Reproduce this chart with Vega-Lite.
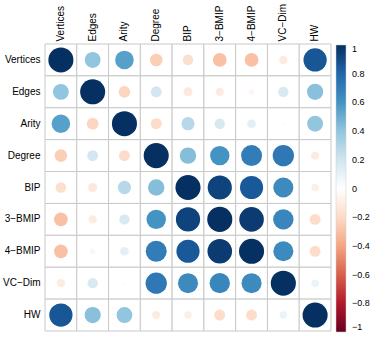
{
  "$schema": "https://vega.github.io/schema/vega-lite/v6.json",
  "width": 286,
  "height": 287,
  "autosize": {"type": "none"},
  "padding": {"left": 45, "top": 44, "right": 43, "bottom": 8},
  "background": "white",
  "config": {
    "view": {"stroke": null},
    "font": "Liberation Sans",
    "axis": {"labelFont": "Liberation Sans", "labelFontSize": 10, "labelColor": "black"},
    "legend": {"labelFont": "Liberation Sans", "labelFontSize": 9, "labelColor": "black"}
  },
  "data": {"values": [
    {"row":"Vertices","col":"Vertices","r":1},{"row":"Vertices","col":"Edges","r":0.40},{"row":"Vertices","col":"Arity","r":0.55},{"row":"Vertices","col":"Degree","r":-0.25},{"row":"Vertices","col":"BIP","r":-0.18},{"row":"Vertices","col":"3−BMIP","r":-0.30},{"row":"Vertices","col":"4−BMIP","r":-0.30},{"row":"Vertices","col":"VC−Dim","r":-0.11},{"row":"Vertices","col":"HW","r":0.86},
    {"row":"Edges","col":"Vertices","r":0.40},{"row":"Edges","col":"Edges","r":1},{"row":"Edges","col":"Arity","r":-0.22},{"row":"Edges","col":"Degree","r":0.19},{"row":"Edges","col":"BIP","r":-0.13},{"row":"Edges","col":"3−BMIP","r":-0.11},{"row":"Edges","col":"4−BMIP","r":-0.05},{"row":"Edges","col":"VC−Dim","r":0.17},{"row":"Edges","col":"HW","r":0.42},
    {"row":"Arity","col":"Vertices","r":0.55},{"row":"Arity","col":"Edges","r":-0.22},{"row":"Arity","col":"Arity","r":1},{"row":"Arity","col":"Degree","r":-0.19},{"row":"Arity","col":"BIP","r":0.28},{"row":"Arity","col":"3−BMIP","r":0.17},{"row":"Arity","col":"4−BMIP","r":0.12},{"row":"Arity","col":"VC−Dim","r":0.02},{"row":"Arity","col":"HW","r":0.40},
    {"row":"Degree","col":"Vertices","r":-0.25},{"row":"Degree","col":"Edges","r":0.19},{"row":"Degree","col":"Arity","r":-0.19},{"row":"Degree","col":"Degree","r":1},{"row":"Degree","col":"BIP","r":0.43},{"row":"Degree","col":"3−BMIP","r":0.60},{"row":"Degree","col":"4−BMIP","r":0.70},{"row":"Degree","col":"VC−Dim","r":0.72},{"row":"Degree","col":"HW","r":-0.11},
    {"row":"BIP","col":"Vertices","r":-0.18},{"row":"BIP","col":"Edges","r":-0.13},{"row":"BIP","col":"Arity","r":0.28},{"row":"BIP","col":"Degree","r":0.43},{"row":"BIP","col":"BIP","r":1},{"row":"BIP","col":"3−BMIP","r":0.93},{"row":"BIP","col":"4−BMIP","r":0.85},{"row":"BIP","col":"VC−Dim","r":0.64},{"row":"BIP","col":"HW","r":-0.09},
    {"row":"3−BMIP","col":"Vertices","r":-0.30},{"row":"3−BMIP","col":"Edges","r":-0.11},{"row":"3−BMIP","col":"Arity","r":0.17},{"row":"3−BMIP","col":"Degree","r":0.60},{"row":"3−BMIP","col":"BIP","r":0.93},{"row":"3−BMIP","col":"3−BMIP","r":1},{"row":"3−BMIP","col":"4−BMIP","r":0.96},{"row":"3−BMIP","col":"VC−Dim","r":0.66},{"row":"3−BMIP","col":"HW","r":-0.19},
    {"row":"4−BMIP","col":"Vertices","r":-0.30},{"row":"4−BMIP","col":"Edges","r":-0.05},{"row":"4−BMIP","col":"Arity","r":0.12},{"row":"4−BMIP","col":"Degree","r":0.70},{"row":"4−BMIP","col":"BIP","r":0.85},{"row":"4−BMIP","col":"3−BMIP","r":0.96},{"row":"4−BMIP","col":"4−BMIP","r":1},{"row":"4−BMIP","col":"VC−Dim","r":0.64},{"row":"4−BMIP","col":"HW","r":-0.19},
    {"row":"VC−Dim","col":"Vertices","r":-0.11},{"row":"VC−Dim","col":"Edges","r":0.17},{"row":"VC−Dim","col":"Arity","r":0.02},{"row":"VC−Dim","col":"Degree","r":0.72},{"row":"VC−Dim","col":"BIP","r":0.64},{"row":"VC−Dim","col":"3−BMIP","r":0.66},{"row":"VC−Dim","col":"4−BMIP","r":0.64},{"row":"VC−Dim","col":"VC−Dim","r":1},{"row":"VC−Dim","col":"HW","r":0.09},
    {"row":"HW","col":"Vertices","r":0.86},{"row":"HW","col":"Edges","r":0.42},{"row":"HW","col":"Arity","r":0.40},{"row":"HW","col":"Degree","r":-0.11},{"row":"HW","col":"BIP","r":-0.09},{"row":"HW","col":"3−BMIP","r":-0.19},{"row":"HW","col":"4−BMIP","r":-0.19},{"row":"HW","col":"VC−Dim","r":0.09},{"row":"HW","col":"HW","r":1}
  ]},
  "encoding": {
    "x": {"field": "col", "type": "nominal", "title": null,
      "sort": ["Vertices","Edges","Arity","Degree","BIP","3−BMIP","4−BMIP","VC−Dim","HW"],
      "scale": {"paddingInner": 0, "paddingOuter": 0},
      "axis": {"orient": "top", "labelAngle": -90, "domain": false, "ticks": false, "labelPadding": 3, "grid": false}},
    "y": {"field": "row", "type": "nominal", "title": null,
      "sort": ["Vertices","Edges","Arity","Degree","BIP","3−BMIP","4−BMIP","VC−Dim","HW"],
      "scale": {"paddingInner": 0, "paddingOuter": 0},
      "axis": {"domain": false, "ticks": false, "labelPadding": 5, "grid": false}}
  },
  "layer": [
    {"mark": {"type": "rect", "fill": "white", "stroke": "#c8c8c8", "strokeWidth": 1}},
    {"mark": {"type": "circle", "opacity": 1},
     "encoding": {
       "size": {"field": "r", "type": "quantitative", "legend": null,
         "scale": {"domain": [-1, 0, 1], "range": [629, 0, 629], "zero": false}},
       "color": {"field": "r", "type": "quantitative",
         "scale": {"domain": [-1, -0.8, -0.6, -0.4, -0.2, 0, 0.2, 0.4, 0.6, 0.8, 1],
           "interpolate": "rgb",
           "range": ["#67001F", "#B2182B", "#D6604D", "#F4A582", "#FDDBC7", "#FFFFFF", "#D1E5F0", "#92C5DE", "#4393C3", "#2166AC", "#053061"]},
         "legend": {"title": null, "orient": "none", "legendX": 291, "legendY": 1, "direction": "vertical",
           "gradientLength": 287, "gradientThickness": 10, "padding": 0,
           "gradientStrokeColor": "#cccccc", "gradientStrokeWidth": 0.5,
           "values": [-1, -0.8, -0.6, -0.4, -0.2, 0, 0.2, 0.4, 0.6, 0.8, 1],
           "format": "~g", "labelOffset": 6, "labelOverlap": false}}
     }}
  ]
}
